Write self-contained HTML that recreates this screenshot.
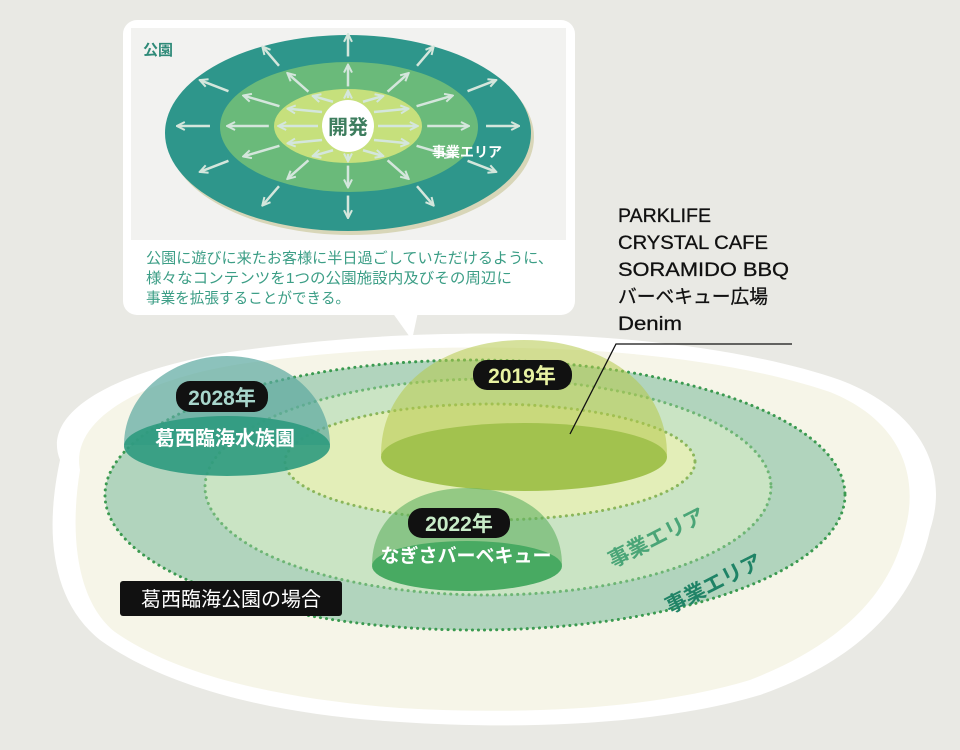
<!DOCTYPE html>
<html><head><meta charset="utf-8"><style>
html,body{margin:0;padding:0;background:#e9e9e4;}
svg{display:block;}
.jp{font-family:"Liberation Sans","Noto Sans CJK JP",sans-serif;font-weight:bold;}
</style></head><body>
<svg id="s" width="960" height="750" viewBox="0 0 960 750" xmlns="http://www.w3.org/2000/svg">
<defs>
<marker id="ah" viewBox="0 0 10 10" refX="8" refY="5" markerWidth="4" markerHeight="4" orient="auto"><path d="M1,1 L9,5 L1,9" fill="none" stroke="#d4e6dc" stroke-width="2"/></marker>
</defs>
<rect width="960" height="750" fill="#e9e9e4"/>
<!-- island -->
<path d="M60,460 C40,410 120,370 230,352 C330,338 420,332 520,334 C640,336 760,352 840,380 C920,410 950,470 930,530 C915,600 860,660 760,695 C660,725 520,730 400,722 C280,715 170,690 100,640 C50,600 45,530 60,460 Z" fill="#ffffff"/>
<path d="M80,470 C70,420 140,380 240,364 C340,350 430,346 520,348 C640,350 750,365 830,392 C900,420 920,475 905,530 C890,595 840,645 750,680 C650,710 520,715 400,708 C290,700 180,678 115,632 C75,600 70,530 80,470 Z" fill="#f6f5e8"/>
<!-- rings -->
<ellipse cx="475" cy="495" rx="370" ry="135" fill="#b1d4bd" stroke="#3b9a50" stroke-width="3" stroke-dasharray="0.1 6" stroke-linecap="round"/>
<ellipse cx="488" cy="487" rx="283" ry="108" fill="#cae4c4" stroke="#6db574" stroke-width="3" stroke-dasharray="0.1 6" stroke-linecap="round"/>
<ellipse cx="490" cy="462" rx="205" ry="58" fill="#e3eeb8" stroke="#8ab65a" stroke-width="3" stroke-dasharray="0.1 6" stroke-linecap="round"/>
<!-- dome 2019 -->
<path d="M381,455 C381,380 450,340 524,340 C598,340 667,380 667,455 Z" fill="#b5c94a" fill-opacity="0.55"/>
<ellipse cx="524" cy="457" rx="143" ry="34" fill="#a2c24e"/>
<!-- dome 2028 -->
<path d="M124,445 C124,395 170,356 227,356 C284,356 330,395 330,445 Z" fill="#5ba8a0" fill-opacity="0.7"/>
<ellipse cx="227" cy="446" rx="103" ry="30" fill="#2e9a7e" fill-opacity="0.9"/>
<!-- dome 2022 -->
<path d="M372,565 C372,515 415,488 467,488 C519,488 562,515 562,565 Z" fill="#5fb060" fill-opacity="0.6"/>
<ellipse cx="467" cy="566" rx="95" ry="25" fill="#48aa62"/>
<!-- pills -->
<rect x="176" y="381" width="92" height="31" rx="14" fill="#111"/>
<text x="222" y="405" text-anchor="middle" class="jp" font-size="21" fill="#a8d6cc">2028年</text>
<rect x="473" y="360" width="99" height="30" rx="14" fill="#111"/>
<text x="522" y="383" text-anchor="middle" class="jp" font-size="21" fill="#e8f2a2">2019年</text>
<rect x="408" y="508" width="102" height="30" rx="14" fill="#111"/>
<text x="459" y="531" text-anchor="middle" class="jp" font-size="21" fill="#c8ecc8">2022年</text>
<text x="225" y="445" text-anchor="middle" class="jp" font-size="20" fill="#fff">葛西臨海水族園</text>
<text x="466" y="562" text-anchor="middle" class="jp" font-size="19" fill="#fff">なぎさバーベキュー</text>
<text transform="translate(613,568) rotate(-27)" class="jp" font-size="21" fill="#4aa577">事業エリア</text>
<text transform="translate(670,614) rotate(-27)" class="jp" font-size="21" fill="#1f8366">事業エリア</text>
<rect x="120" y="581" width="222" height="35" rx="3" fill="#111"/>
<text x="231" y="606" text-anchor="middle" font-family="Liberation Sans,'Noto Sans CJK JP',sans-serif" font-size="20" fill="#fff">葛西臨海公園の場合</text>
<!-- callout -->
<rect x="123" y="20" width="452" height="295" rx="14" fill="#fff"/>
<path d="M392,312 L412,340 L418,312 Z" fill="#fff"/>
<rect x="131" y="28" width="435" height="212" fill="#f2f2f0"/>
<ellipse cx="351" cy="137" rx="183" ry="98" fill="#d8d6b8"/>
<ellipse cx="348" cy="133" rx="183" ry="98" fill="#2e968b"/>
<ellipse cx="349" cy="127" rx="129" ry="65" fill="#6aba7a"/>
<ellipse cx="348" cy="126" rx="74" ry="37" fill="#c6e07c"/>
<g id="arrows" stroke="#d4e6dc" stroke-width="2.5" fill="none"></g>
<circle cx="348" cy="126" r="26" fill="#fff"/>
<text x="348" y="134" text-anchor="middle" class="jp" font-size="20" fill="#3d7d5e">開発</text>
<text x="432" y="157" class="jp" font-size="14" fill="#fff">事業エリア</text>
<text x="143" y="55" class="jp" font-size="15" fill="#2e8a78">公園</text>
<g font-family="Liberation Sans,'Noto Sans CJK JP',sans-serif" font-size="15" fill="#3c9e86">
<text x="146" y="263" textLength="407" lengthAdjust="spacingAndGlyphs">公園に遊びに来たお客様に半日過ごしていただけるように、</text>
<text x="146" y="283" textLength="366" lengthAdjust="spacingAndGlyphs">様々なコンテンツを1つの公園施設内及びその周辺に</text>
<text x="146" y="303" textLength="204" lengthAdjust="spacingAndGlyphs">事業を拡張することができる。</text>
</g>
<!-- right list -->
<g font-family="Liberation Sans,'Noto Sans CJK JP',sans-serif" font-size="19" fill="#111" stroke="#111" stroke-width="0.3">
<text x="618" y="222" textLength="93" lengthAdjust="spacingAndGlyphs">PARKLIFE</text>
<text x="618" y="249" textLength="150" lengthAdjust="spacingAndGlyphs">CRYSTAL CAFE</text>
<text x="618" y="276" textLength="171" lengthAdjust="spacingAndGlyphs">SORAMIDO BBQ</text>
<text x="618" y="303" textLength="150" lengthAdjust="spacingAndGlyphs">バーベキュー広場</text>
<text x="618" y="330" textLength="64" lengthAdjust="spacingAndGlyphs">Denim</text>
</g>
<polyline points="792,344 616,344 570,434" fill="none" stroke="#111" stroke-width="1.3"/>
</svg>
<script>
(function(){
var g=document.getElementById('arrows'),cx=348,cy=126;
var rings=[[0,0,30,74,37],[74,37,0,129,65],[129,65,0,183,98]];
var angs=[0,30,60,90,120,150,180,210,240,270,300,330];
rings.forEach(function(r,i){
 angs.forEach(function(a){
  var t=a*Math.PI/180,c=Math.cos(t),s=Math.sin(t);
  var x1,y1;
  if(i==0){x1=cx+30*c;y1=cy+28*s;}else{x1=cx+r[0]*1.07*c;y1=cy+r[1]*1.07*s;}
  var x2=cx+r[3]*0.93*c,y2=cy+r[4]*0.93*s;
  var l=document.createElementNS('http://www.w3.org/2000/svg','line');
  l.setAttribute('x1',x1);l.setAttribute('y1',y1);l.setAttribute('x2',x2);l.setAttribute('y2',y2);
  l.setAttribute('marker-end','url(#ah)');g.appendChild(l);
 });
});
})();
</script>
</body></html>
